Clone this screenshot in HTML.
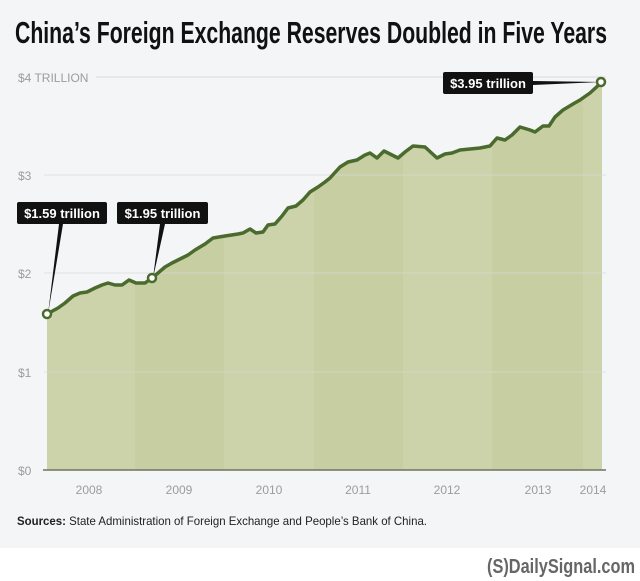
<!DOCTYPE html>
<html><head><meta charset="utf-8"><style>
html,body{margin:0;padding:0;background:#fff;}
svg{display:block;}
</style></head><body>
<svg width="640" height="581" viewBox="0 0 640 581" xmlns="http://www.w3.org/2000/svg">
<rect x="0" y="0" width="640" height="548" fill="#f4f5f7"/>
<text x="15" y="43" font-family="Liberation Sans Narrow, Liberation Sans, sans-serif" font-size="31" font-weight="bold" fill="#111" textLength="592" lengthAdjust="spacingAndGlyphs">China’s Foreign Exchange Reserves Doubled in Five Years</text>
<!-- bands -->
<rect x="47" y="60" width="88" height="410" fill="#f4f5f7"/>
<clipPath id="c"><path id="area" d="M47,314 L58,308 65,303 73,296 80,293 87,292 95,288 102,285 108,283 115,285 122,285 129,280 136,283 145,283 152,278 158,273 165,267 172,263 180,259 188,255 195,250 205,244 213,238 225,236 238,234 243,233 250,229 256,233 263,232 268,225 275,224 282,216 288,208 296,206 303,200 310,192 318,187 325,182 330,178 340,167 348,162 357,160 365,155 370,153 377,158 384,151 392,155 398,158 405,152 413,146 425,147 437,158 445,154 452,153 460,150 470,149 480,148 490,146 497,138 505,140 512,135 520,127 530,130 535,132 543,126 549,126 555,117 563,110 573,104 580,100 590,93 602,82 L602,470 L47,470 Z"/></clipPath>
<g clip-path="url(#c)">
<rect x="47" y="60" width="88" height="410" fill="#ccd3aa"/>
<rect x="135" y="60" width="89" height="410" fill="#c6cea2"/>
<rect x="224" y="60" width="90" height="410" fill="#ccd3aa"/>
<rect x="314" y="60" width="89" height="410" fill="#c6cea2"/>
<rect x="403" y="60" width="89" height="410" fill="#ccd3aa"/>
<rect x="492" y="60" width="91" height="410" fill="#c6cea2"/>
<rect x="583" y="60" width="20" height="410" fill="#ccd3aa"/>
</g>
<!-- gridlines -->
<g stroke="#d8d9d9" stroke-width="1">
<line x1="96" y1="77" x2="606" y2="77"/>
<line x1="44" y1="175" x2="606" y2="175" stroke-opacity="0.7"/>
<line x1="44" y1="273" x2="606" y2="273" stroke-opacity="0.7"/>
<line x1="44" y1="372" x2="606" y2="372" stroke-opacity="0.7"/>
</g>
<line x1="43" y1="470" x2="606" y2="470" stroke="#6f7461" stroke-width="1.5"/>
<g font-family="Liberation Sans, sans-serif" font-size="12" fill="#9a9c9e">
<text x="18" y="82">$4 TRILLION</text>
<text x="18" y="180">$3</text>
<text x="18" y="278">$2</text>
<text x="18" y="377">$1</text>
<text x="18" y="475">$0</text>
</g>
<g font-family="Liberation Sans, sans-serif" font-size="12" fill="#9a9c9e" text-anchor="middle">
<text x="89" y="494">2008</text>
<text x="179" y="494">2009</text>
<text x="269" y="494">2010</text>
<text x="358" y="494">2011</text>
<text x="447" y="494">2012</text>
<text x="538" y="494">2013</text>
<text x="593" y="494">2014</text>
</g>
<polyline fill="none" stroke="#4a6b2d" stroke-width="3.5" stroke-linejoin="round" points="47,314 58,308 65,303 73,296 80,293 87,292 95,288 102,285 108,283 115,285 122,285 129,280 136,283 145,283 152,278 158,273 165,267 172,263 180,259 188,255 195,250 205,244 213,238 225,236 238,234 243,233 250,229 256,233 263,232 268,225 275,224 282,216 288,208 296,206 303,200 310,192 318,187 325,182 330,178 340,167 348,162 357,160 365,155 370,153 377,158 384,151 392,155 398,158 405,152 413,146 425,147 437,158 445,154 452,153 460,150 470,149 480,148 490,146 497,138 505,140 512,135 520,127 530,130 535,132 543,126 549,126 555,117 563,110 573,104 580,100 590,93 602,82"/>
<!-- callouts -->
<polygon points="59,224 63,224 48,314" fill="#111"/>
<polygon points="160,224 165,224 153,278" fill="#111"/>
<polygon points="533,81 533,85 601,82" fill="#111"/>
<rect x="17" y="202" width="90" height="22" rx="2" fill="#111"/>
<rect x="117" y="202" width="91" height="22" rx="2" fill="#111"/>
<rect x="443" y="72" width="90" height="22" rx="2" fill="#111"/>
<g font-family="Liberation Sans, sans-serif" font-size="13" font-weight="bold" fill="#fff" text-anchor="middle">
<text x="62" y="218">$1.59 trillion</text>
<text x="162.5" y="218">$1.95 trillion</text>
<text x="488" y="88">$3.95 trillion</text>
</g>
<circle cx="47" cy="314" r="4" fill="#fff" stroke="#4a6b2d" stroke-width="2.5"/>
<circle cx="152" cy="278" r="4" fill="#fff" stroke="#4a6b2d" stroke-width="2.5"/>
<circle cx="601" cy="82" r="4" fill="#fff" stroke="#4a6b2d" stroke-width="2.5"/>
<text x="17" y="525" font-family="Liberation Sans, sans-serif" font-size="12" fill="#222" textLength="410" lengthAdjust="spacingAndGlyphs"><tspan font-weight="bold">Sources:</tspan> State Administration of Foreign Exchange and People’s Bank of China.</text>
<text x="487" y="573" font-family="Liberation Sans Narrow, Liberation Sans, sans-serif" font-size="20" font-weight="bold" fill="#666" textLength="148" lengthAdjust="spacingAndGlyphs">(S)DailySignal.com</text>
</svg>
</body></html>
